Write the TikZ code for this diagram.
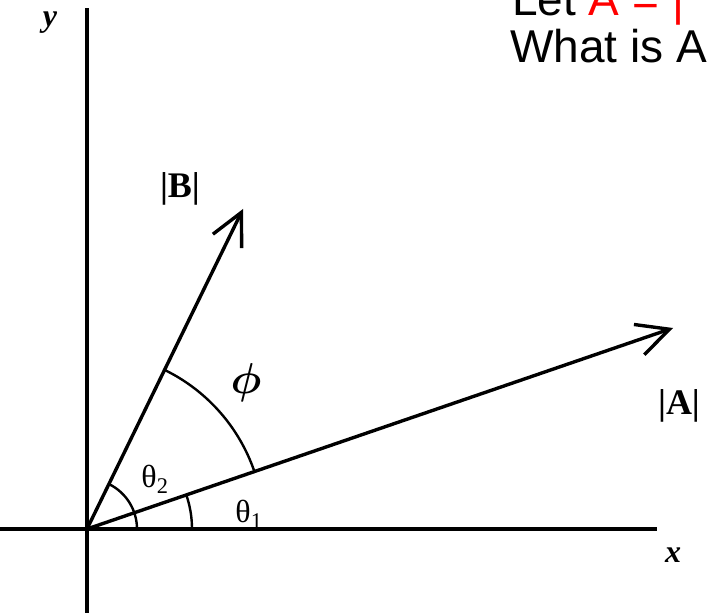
\documentclass[tikz,border=0pt]{standalone}
\usepackage{amsmath}
\usepackage{fontspec}
\setmainfont{Liberation Serif}
\newfontfamily\sansfam{Liberation Sans}
\usetikzlibrary{arrows.meta}
\begin{document}
\begin{tikzpicture}[x=1pt,y=1pt,
  axis/.style={line width=3.2pt},
  vec/.style={line width=3.4pt,-{Straight Barb[length=32pt,width=32pt]}},
  angarc/.style={line width=2.4pt},
  lbl/.style={inner sep=0pt,font=\bfseries\fontsize{36}{40}\selectfont},
  axlbl/.style={inner sep=0pt,font=\bfseries\itshape\fontsize{32}{36}\selectfont},
  anglbl/.style={inner sep=0pt,font=\fontsize{32}{36}\selectfont},
  qtext/.style={inner sep=0pt,anchor=base west,font=\sansfam\fontsize{46}{50}\selectfont}]
\useasboundingbox (0,0) rectangle (707,613);
\clip (0,0) rectangle (707,613);
% axes
\coordinate (O) at (87,84);
\coordinate (xs) at (0,84);
\coordinate (xe) at (657,84);
\coordinate (ys) at (87,0);
\coordinate (ye) at (87,605);
\draw[axis] (xs) -- (xe);
\draw[axis] (ys) -- (ye);
% vectors
\coordinate (Atip) at (673,285);
\coordinate (Btip) at (243,404);
\draw[vec] (O) -- (Atip);
\draw[vec] (O) -- (Btip);
% angle arcs
\draw[angarc] ([shift={(18.93:177)}]O) arc[start angle=18.93,end angle=64,radius=177];
\draw[angarc] ([shift={(0:50)}]O) arc[start angle=0,end angle=64,radius=50];
\draw[angarc] ([shift={(0:105)}]O) arc[start angle=0,end angle=18.93,radius=105];
% labels
\node[lbl] (lB) at (180,424) {|B|};
\node[lbl] (lA) at (679,207) {|A|};
\node[inner sep=0pt,scale=3,font=\Large] (lphi) at (246,230) {$\boldsymbol{\phi}$};
\node[anglbl] (lt2) at (155,134) {θ\textsubscript{2}};
\node[anglbl] (lt1) at (249,99) {θ\textsubscript{1}};
\node[axlbl] (lx) at (673,58) {x};
\node[axlbl] (ly) at (50,590) {y};
% question text
\node[qtext] (q1) at (512,597) {Let \textcolor{red}{A = |}};
\node[qtext] (q2) at (510,550) {What is A};
\end{tikzpicture}
\end{document}
